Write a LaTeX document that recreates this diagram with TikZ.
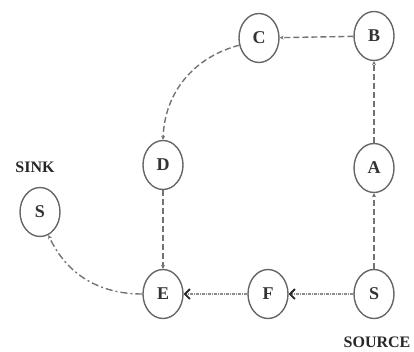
\documentclass[tikz,border=0pt]{standalone}
\usepackage{fontspec}
\setmainfont{Liberation Serif}
\usetikzlibrary{arrows.meta,shapes.geometric}
\begin{document}
\begin{tikzpicture}[x=1pt,y=-1pt,
  nd/.style={draw=black!60,line width=1.4pt,ellipse,minimum width=40pt,minimum height=49pt,inner sep=0pt,font=\fontsize{18}{18}\selectfont\bfseries,text=black!80},
  lbl/.style={font=\fontsize{16}{16}\selectfont\bfseries,text=black!85,inner sep=0pt},
  dsh/.style={draw=black!55,line width=1.4pt,dash pattern=on 6pt off 3pt,-{Stealth[length=4pt,width=4pt]}},
  dtt/.style={draw=black!45,line width=1.1pt,dash pattern=on 3pt off 1pt on 1pt off 1pt,-{Straight Barb[length=5pt,width=10pt,line width=1.8pt,color=black!85]}}
]
\useasboundingbox (0,0) rectangle (414,351);
\node[nd] (C) at (259,38) {C};
\node[nd] (B) at (374,36) {B};
\node[nd] (D) at (163,165) {D};
\node[nd] (A) at (374,168) {A};
\node[nd] (K) at (40,212) {S};
\node[nd] (E) at (163,294) {E};
\node[nd] (F) at (268,294) {F};
\node[nd] (S) at (374,294) {S};
\node[lbl] (sink) at (35,167) {SINK};
\node[lbl] (src) at (377,342) {SOURCE};
\draw[dsh] (B) -- (C);
\draw[dsh] (A) -- (B);
\draw[dsh] (S) -- (A);
\draw[dsh] (C.200) to[out=195,in=88] (D.north);
\draw[dsh] (D) -- (E);
\draw[dtt] (S) -- (F);
\draw[dtt] (F) -- (E);
\draw[dsh,dash pattern=on 7pt off 3pt on 2pt off 3pt] (E.west) to[out=180,in=-65] (K.-70);
\end{tikzpicture}
\end{document}
